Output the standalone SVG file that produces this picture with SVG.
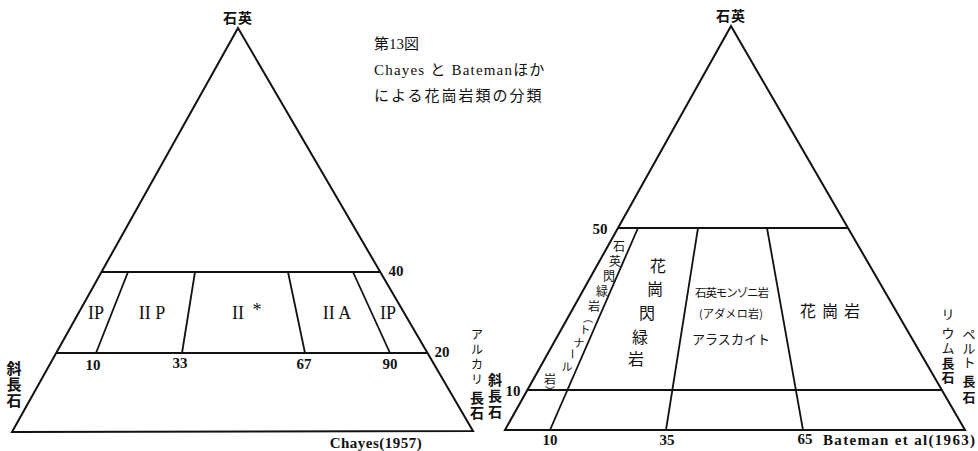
<svg xmlns="http://www.w3.org/2000/svg" width="978" height="451" viewBox="0 0 978 451">
<style>
.tri{fill:none;stroke:#111;stroke-width:2;stroke-linejoin:miter}
.ln{stroke:#111;stroke-width:1.8;fill:none}
text{fill:#111;dominant-baseline:central;text-anchor:middle}
.jp{font-family:"Noto Sans CJK JP","Noto Sans",sans-serif}
.jb{font-family:"Noto Sans CJK JP","Noto Sans",sans-serif;font-weight:bold}
.num{font-family:"Liberation Serif","DejaVu Serif",serif;font-weight:bold;font-size:15px}
.rom{font-family:"Liberation Serif","DejaVu Serif",serif;font-size:18px}
.ttl{font-family:"Liberation Serif","Noto Sans CJK JP",serif;font-size:15px;text-anchor:start}
</style>
<rect width="978" height="451" fill="#fff"/>

<g id="connectors">
  <polygon class="tri" points="238,28 12,432 473,431"/>
  <line class="ln" x1="102" y1="272" x2="380" y2="272"/>
  <line class="ln" x1="56" y1="353" x2="427" y2="353"/>
  <line class="ln" x1="128" y1="272" x2="96" y2="353"/>
  <line class="ln" x1="195" y1="272" x2="182" y2="353"/>
  <line class="ln" x1="288" y1="272" x2="305" y2="353"/>
  <line class="ln" x1="353" y1="272" x2="390" y2="353"/>
  <polygon class="tri" points="731,26 505,430 965,430"/>
  <line class="ln" x1="618" y1="228" x2="848" y2="228"/>
  <line class="ln" x1="527" y1="390" x2="942" y2="390"/>
  <line class="ln" x1="638" y1="228" x2="550" y2="430"/>
  <line class="ln" x1="698" y1="228" x2="666" y2="430"/>
  <line class="ln" x1="767" y1="228" x2="803" y2="430"/>
</g>

<g id="title">
  <text class="ttl" x="374" y="44">第13図</text>
  <text class="ttl" x="374" y="70" letter-spacing="1.2">Chayes と Batemanほか</text>
  <text class="ttl" x="374" y="96" letter-spacing="2" font-family="Noto Sans CJK JP,sans-serif">による花崗岩類の分類</text>
</g>

<g id="chayes">
  <text class="jb" x="238" y="17" font-size="14" letter-spacing="1">石英</text>
  <text class="num" x="396" y="271">40</text>
  <text class="num" x="442" y="352">20</text>
  <text class="num" x="93" y="365">10</text>
  <text class="num" x="180" y="363">33</text>
  <text class="num" x="304" y="364">67</text>
  <text class="num" x="390" y="364">90</text>
  <text class="rom" x="96" y="313">IP</text>
  <text class="rom" x="152" y="313">II P</text>
  <text class="rom" x="238" y="313">II</text>
  <text class="rom" x="257" y="310" font-size="22">*</text>
  <text class="rom" x="337" y="313">II A</text>
  <text class="rom" x="388" y="313">IP</text>
  <g class="jb" font-size="15">
    <text x="14" y="367">斜</text>
    <text x="14" y="383">長</text>
    <text x="14" y="399">石</text>
  </g>
  <g class="jp" font-size="12">
    <text x="477" y="333">ア</text>
    <text x="477" y="348">ル</text>
    <text x="477" y="363">カ</text>
    <text x="477" y="378">リ</text>
  </g>
  <g class="jb" font-size="14">
    <text x="477" y="397">長</text>
    <text x="477" y="412">石</text>
  </g>
  <text class="num" x="376" y="443" letter-spacing="0.5">Chayes(1957)</text>
</g>

<g id="bateman">
  <text class="jb" x="731" y="15" font-size="14" letter-spacing="1">石英</text>
  <text class="num" x="600" y="229">50</text>
  <text class="num" x="513" y="391">10</text>
  <text class="num" x="550" y="440">10</text>
  <text class="num" x="667" y="440">35</text>
  <text class="num" x="805" y="439">65</text>
  <text class="num" x="899" y="440" textLength="152" lengthAdjust="spacing">Bateman et al(1963)</text>
  <g class="jb" font-size="14">
    <text x="495" y="379">斜</text>
    <text x="495" y="395">長</text>
    <text x="495" y="411">石</text>
  </g>
  <g class="jp" font-size="12">
    <text x="619" y="245">石</text>
    <text x="615" y="260">英</text>
    <text x="609" y="275">閃</text>
    <text x="602" y="290">緑</text>
    <text x="594" y="305">岩</text>
    <text x="550" y="378">岩</text>
  </g>
  <g class="jp" font-size="11">
    <text x="585" y="329">ト</text>
    <text x="579" y="342">ナ</text>
    <text x="573" y="354" transform="rotate(90 573 354)">ー</text>
    <text x="567" y="366">ル</text>
  </g>
  <g class="jp" font-size="10">
    <text x="588" y="317">︵</text>
    <text x="550" y="390">︶</text>
  </g>
  <g class="jp" font-size="16">
    <text x="658" y="265">花</text>
    <text x="655" y="288">崗</text>
    <text x="647" y="312">閃</text>
    <text x="640" y="336">緑</text>
    <text x="636" y="358">岩</text>
  </g>
  <text class="jp" x="732" y="292" font-size="11.5" textLength="74" lengthAdjust="spacing">石英モンゾニ岩</text>
  <text class="jp" x="731" y="313" font-size="11" textLength="64" lengthAdjust="spacing">(アダメロ岩)</text>
  <text class="jp" x="731" y="338" font-size="13" textLength="78" lengthAdjust="spacing">アラスカイト</text>
  <text class="jp" x="833" y="310" font-size="16" letter-spacing="6">花崗岩</text>
  <g class="jp" font-size="13">
    <text x="948" y="313">リ</text>
    <text x="948" y="332">ウ</text>
    <text x="948" y="347">ム</text>
    <text x="969" y="333">ペ</text>
    <text x="969" y="347">ル</text>
    <text x="969" y="361">ト</text>
  </g>
  <g class="jb" font-size="13">
    <text x="948" y="362">長</text>
    <text x="948" y="376">石</text>
    <text x="969" y="380">長</text>
    <text x="969" y="396">石</text>
  </g>
</g>
</svg>
